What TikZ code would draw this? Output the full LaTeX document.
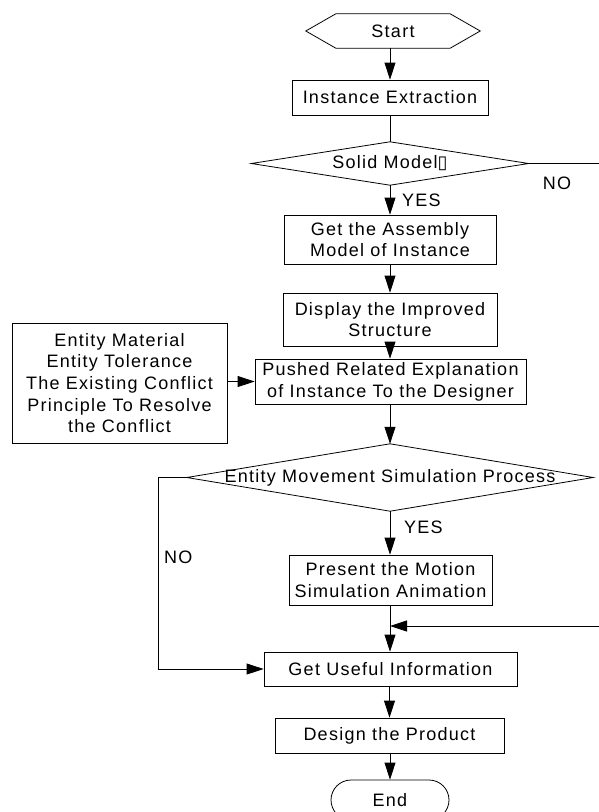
\documentclass[tikz,border=0pt]{standalone}
\usepackage{fontspec}
\setmainfont{Liberation Sans}[LetterSpace=7]
\newfontfamily\dejavu{DejaVu Sans}
\usetikzlibrary{arrows.meta}
\begin{document}
\begin{tikzpicture}[x=1pt,y=-1pt,
  txt/.style={font=\fontsize{18}{21.7}\selectfont},
  box/.style={draw, line width=0.8pt, inner sep=0pt, align=center, txt},
  hid/.style={inner sep=0pt, align=center, txt},
  lbl/.style={inner sep=0pt, txt},
  ln/.style={line width=0.8pt},
  arr/.style={ln, -{Triangle[length=17pt,width=11pt]}}]
\useasboundingbox (0,0) rectangle (599,812);
\clip (0,0) rectangle (599,812);
\fill[white] (0,0) rectangle (599,812);

% nodes
\node[hid, minimum width=174pt, minimum height=34pt] (start) at (393,31) {Start};
\draw[ln] (start.west) -- ([xshift=30pt]start.north west) -- ([xshift=-30pt]start.north east)
  -- (start.east) -- ([xshift=-30pt]start.south east) -- ([xshift=30pt]start.south west) -- cycle;
\node[box, minimum width=196pt, minimum height=35pt] (inst) at (390,97.5) {Instance Extraction};
\node[hid, minimum width=277pt, minimum height=43pt] (solid) at (390,163.5) {Solid Model{\dejavu ▯}};
\draw[ln] (solid.west) -- (solid.north) -- (solid.east) -- (solid.south) -- cycle;
\node[box, minimum width=212pt, minimum height=49pt] (asm) at (390,239.5) {Get the Assembly\\Model of Instance};
\node[box, minimum width=214pt, minimum height=53pt] (disp) at (390,319.5) {Display the Improved\\Structure};
\node[box, minimum width=271pt, minimum height=45pt] (push) at (390.5,381.5) {Pushed Related Explanation\\of Instance To the Designer};
\node[box, minimum width=215pt, minimum height=120pt] (info) at (119.5,383) {Entity Material\\Entity Tolerance\\The Existing Conflict\\Principle To Resolve\\the Conflict};
\node[hid, minimum width=406pt, minimum height=67pt] (sim) at (390,477.5) {Entity Movement Simulation Process};
\draw[ln] (sim.west) -- (sim.north) -- (sim.east) -- (sim.south) -- cycle;
\node[box, minimum width=203pt, minimum height=50pt] (pres) at (390.5,580) {Present the Motion\\Simulation Animation};
\node[box, minimum width=253pt, minimum height=34pt] (useful) at (390.5,669) {Get Useful Information};
\node[box, minimum width=229pt, minimum height=35pt] (design) at (389.5,735.5) {Design the Product};
\node[box, rounded corners=20pt, minimum width=118pt, minimum height=40pt] (end) at (390,800) {End};

% labels
\node[lbl, anchor=west] (yes1) at (402,200) {YES};
\node[lbl] (no1) at (557,183) {NO};
\node[lbl, anchor=west] (yes2) at (404,527) {YES};
\node[lbl, anchor=west] (no2) at (164,557) {NO};

% free ends
\coordinate (noend) at (599,163.5);
\coordinate (loopin) at (599,626);
\coordinate (join) at (390,626);
\coordinate (nocorner1) at (158,477.5);
\coordinate (nocorner2) at (158,669);

% connectors
\draw[arr] (inst.north |- start.south) -- (inst.north);
\draw[ln] (inst.south) -- (solid.north);
\draw[arr] (solid.south) -- (solid.south |- asm.north);
\draw[ln] (solid.east) -- (noend);
\draw[arr] (asm.south) -- (asm.south |- disp.north);
\draw[arr] (disp.south) -- (disp.south |- push.north);
\draw[arr] (info.east |- push.west) -- (push.west);
\draw[arr] (push.south -| sim.north) -- (sim.north);
\draw[arr] (sim.south) -- (sim.south |- pres.north);
\draw[ln] (sim.west) -- (nocorner1) -- (nocorner2);
\draw[arr] (nocorner2) -- (useful.west);
\draw[arr] (pres.south -| join) -- (join |- useful.north);
\draw[arr] (loopin) -- (join);
\draw[arr] (useful.south -| design.north) -- (design.north);
\draw[arr] (design.south -| end.north) -- (end.north);
\end{tikzpicture}
\end{document}
